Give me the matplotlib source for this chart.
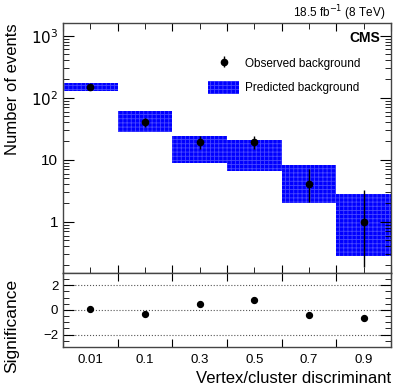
import matplotlib
matplotlib.use("Agg")
import matplotlib.pyplot as plt
import numpy as np
from matplotlib.patches import Patch
from matplotlib.ticker import FixedLocator, FuncFormatter, MultipleLocator, LogLocator, NullFormatter

plt.rcParams["font.family"] = ["Liberation Sans", "DejaVu Sans"]
plt.rcParams["hatch.linewidth"] = 0.6

# ----- data -----
bin_labels = ["0.01", "0.1", "0.3", "0.5", "0.7", "0.9"]
pred_lo = [130, 28, 8.9, 6.6, 2.0, 0.28]      # predicted background band, lower edge
pred_hi = [174, 62, 24.4, 21, 8.3, 2.8]       # predicted background band, upper edge
observed = [150, 40, 19, 19, 4, 1]
obs_err_lo = [12.2, 6.3, 4.3, 4.3, 1.91, 0.81]
obs_err_hi = [13.3, 7.4, 5.5, 5.5, 3.16, 2.30]
significance = [0.05, -0.35, 0.46, 0.81, -0.41, -0.63]

x = np.arange(len(bin_labels))
BLUE = "#0000ff"
HATCH_EC = "#4646ff"

fig = plt.figure(figsize=(4.07, 3.91), dpi=100)
ax = fig.add_axes([0.155, 0.302, 0.806, 0.639])
axr = fig.add_axes([0.155, 0.1125, 0.806, 0.1895], sharex=ax)

# predicted band
ax.bar(x, np.array(pred_hi) - np.array(pred_lo), bottom=pred_lo, width=1.0,
       color=BLUE, edgecolor=HATCH_EC, hatch="++++", linewidth=0, zorder=1)
# observed
obs = ax.errorbar(x, observed, yerr=[obs_err_lo, obs_err_hi], fmt="o", color="black",
                  ms=4.5, elinewidth=1.0, capsize=0, zorder=3)

ax.set_yscale("log")
ax.set_ylim(0.15, 1600)
ax.set_xlim(-0.5, len(x) - 0.5)
ax.yaxis.set_major_locator(FixedLocator([1, 10, 100, 1000]))
ax.yaxis.set_major_formatter(FuncFormatter(
    lambda v, p: {1: "1", 10: "10", 100: r"$10^2$", 1000: r"$10^3$"}.get(int(round(v)), "")))
ax.yaxis.set_minor_locator(LogLocator(base=10, subs=np.arange(2, 10), numticks=20))
ax.yaxis.set_minor_formatter(NullFormatter())
ax.set_xticks(np.arange(-0.5, len(x), 1.0))
ax.tick_params(axis="x", which="both", labelbottom=False)
ax.tick_params(which="both", direction="in", top=True, right=True, labelsize=11)
ax.tick_params(which="major", length=8)
ax.tick_params(which="minor", length=4)
ax.tick_params(axis="x", which="major", length=6)

for a in (ax, axr):
    for s in a.spines.values():
        s.set_color("#444444")
        s.set_linewidth(1.0)

# legend
band = Patch(facecolor=BLUE, edgecolor=HATCH_EC, hatch="++++", linewidth=0)
ax.legend([obs, band], ["Observed background", "Predicted background"],
          loc="upper left", bbox_to_anchor=(0.41, 0.91), frameon=False, fontsize=8.5,
          handlelength=2.6, handleheight=1.4, labelspacing=0.9, handletextpad=0.55)
ax.text(0.965, 0.94, "CMS", transform=ax.transAxes, ha="right", va="center",
        fontsize=10, fontweight="bold")
fig.text(0.946, 0.966, r"18.5 fb$^{-1}$ (8 TeV)", ha="right", va="center", fontsize=8.5)

# significance panel
axr.scatter(x, significance, color="black", s=18, zorder=3)
for yv in (-2, 0, 2):
    axr.axhline(yv, color="#555555", ls=":", lw=0.8, zorder=1)
axr.set_ylim(-3, 3)
axr.yaxis.set_major_locator(FixedLocator([-2, 0, 2]))
axr.yaxis.set_minor_locator(MultipleLocator(0.5))
axr.set_xticks(np.arange(-0.5, len(x), 1.0))
axr.set_xticks(x, minor=True)
axr.set_xticklabels([], minor=False)
axr.set_xticklabels(bin_labels, minor=True)
axr.tick_params(which="both", direction="in", top=True, right=True, labelsize=9.5)
axr.tick_params(axis="x", which="minor", length=0, labelsize=9.5, pad=5)
axr.tick_params(axis="y", which="major", length=8)
axr.tick_params(axis="y", which="minor", length=4)
axr.tick_params(axis="x", which="major", length=6)

fig.text(0.03, 0.941, "Number of events", rotation=90, ha="center", va="top", fontsize=12)
fig.text(0.028, 0.287, "Significance", rotation=90, ha="center", va="top", fontsize=12.5)
fig.text(0.961, 0.033, "Vertex/cluster discriminant", ha="right", va="center", fontsize=12)

fig.savefig("out.png", dpi=100)
